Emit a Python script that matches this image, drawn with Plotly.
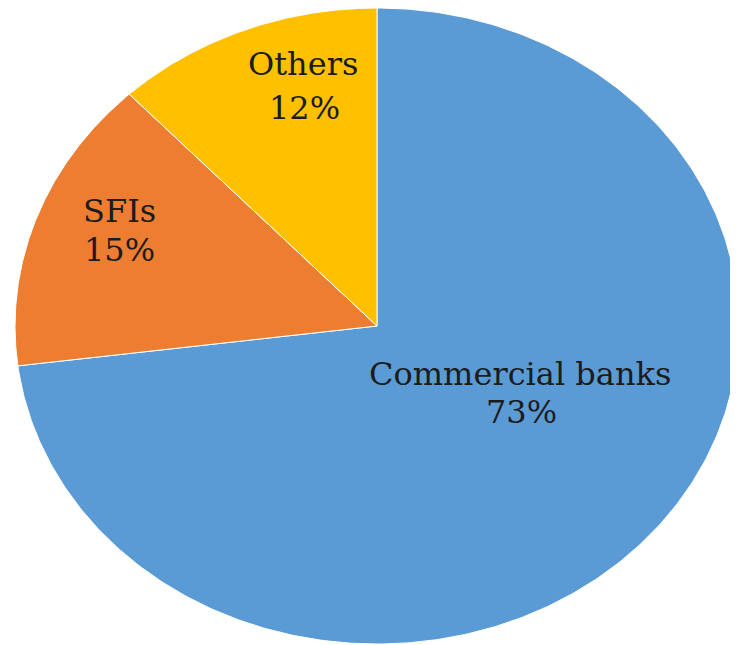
import numpy as np
import plotly.graph_objects as go

labels = ["Commercial banks", "SFIs", "Others"]
values = [73, 15, 12]
colors = ["#5B9BD5", "#ED7D31", "#FFC000"]

# layout geometry (screen pixels; page body has an 8px margin)
W, H = 738, 645
OFF = 8
cx, cy = 377, 326
rx, ry = 362, 318
name_pos = [(520, 374), (119, 211), (303, 64)]
pct_pos = [(521, 412), (119, 250), (304, 108)]

fig = go.Figure()
total = float(sum(values))
start = 0.0
for lab, val, col in zip(labels, values, colors):
    end = start + val / total * 2 * np.pi
    th = np.linspace(start, end, 400)
    xs = np.concatenate([[cx], cx + rx * np.sin(th), [cx]])
    ys = np.concatenate([[cy], cy - ry * np.cos(th), [cy]])
    fig.add_trace(go.Scatter(x=xs, y=ys, mode="lines", fill="toself",
                             fillcolor=col, line=dict(color="white", width=1),
                             hoverinfo="skip", showlegend=False))
    start = end

fnt = dict(family="DejaVu Serif", size=32, color="#1c1c1c")
for lab, val, (nx, ny), (px, py) in zip(labels, values, name_pos, pct_pos):
    fig.add_annotation(x=nx, y=ny, xref="x", yref="y", showarrow=False,
                       text=lab, font=fnt, height=28, borderpad=0)
    fig.add_annotation(x=px, y=py, xref="x", yref="y", showarrow=False,
                       text=f"{val}%", font=fnt, height=28, borderpad=0)

fig.update_layout(width=W - OFF, height=H - OFF, margin=dict(l=0, r=0, t=0, b=0),
                  paper_bgcolor="white", plot_bgcolor="white",
                  xaxis=dict(range=[OFF, W], visible=False, fixedrange=True),
                  yaxis=dict(range=[H, OFF], visible=False, fixedrange=True))
fig.write_html("out.html")
